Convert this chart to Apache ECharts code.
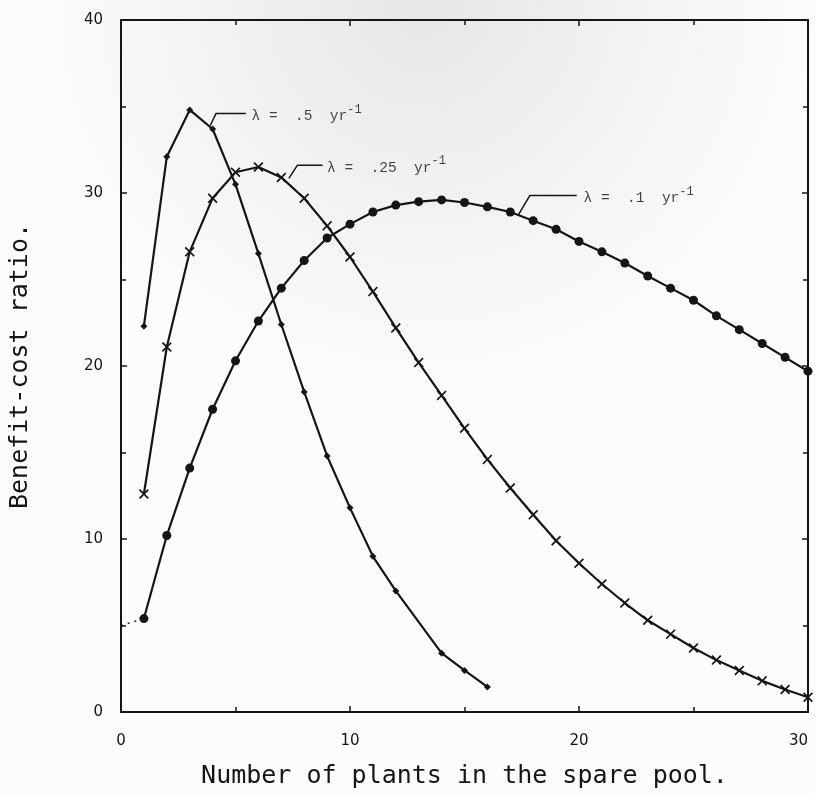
<!DOCTYPE html>
<html>
<head>
<meta charset="utf-8">
<script src="https://cdn.jsdelivr.net/npm/echarts@6/dist/echarts.min.js"></script>
<style>
  html, body { margin: 0; padding: 0; background: #fff; }
  #main { width: 815px; height: 794px; }
</style>
</head>
<body>
<div id="main"></div>
<script>
// benefit-cost ratio vs number of spare plants, for three failure rates
const rate05 = [[1,22.3],[2,32.1],[3,34.8],[4,33.7],[5,30.5],[6,26.5],[7,22.4],[8,18.5],[9,14.8],[10,11.8],[11,9.0],[12,7.0],[14,3.4],[15,2.4],[16,1.45]]
const rate025 = [[1,12.6],[2,21.1],[3,26.6],[4,29.7],[5,31.2],[6,31.5],[7,30.9],[8,29.7],[9,28.1],[10,26.3],[11,24.3],[12,22.2],[13,20.2],[14,18.3],[15,16.4],[16,14.6],[17,12.95],[18,11.4],[19,9.9],[20,8.6],[21,7.4],[22,6.3],[23,5.3],[24,4.5],[25,3.7],[26,3.0],[27,2.4],[28,1.8],[29,1.3],[30,0.85]]
const rate01 = [[1,5.4],[2,10.2],[3,14.1],[4,17.5],[5,20.3],[6,22.6],[7,24.5],[8,26.1],[9,27.4],[10,28.2],[11,28.9],[12,29.3],[13,29.5],[14,29.6],[15,29.45],[16,29.2],[17,28.9],[18,28.4],[19,27.9],[20,27.2],[21,26.6],[22,25.95],[23,25.2],[24,24.5],[25,23.8],[26,22.9],[27,22.1],[28,21.3],[29,20.5],[30,19.7]]
const rate01Extension = [[0,5.0],[1,5.4]]

// leader lines and labels (data coordinates)
const leaders = [
  [[3.9,33.9],[4.15,34.6],[5.45,34.6]],
  [[7.33,30.85],[7.7,31.6],[8.8,31.6]],
  [[17.34,28.7],[17.85,29.85],[19.9,29.85]]
]
const labelText = ['λ =  .5  yr', 'λ =  .25  yr', 'λ =  .1  yr']
const labelAt = [[5.7,34.6],[9.0,31.6],[20.2,29.85]]

const xTitle = 'Number of plants in the spare pool.'
const yTitle = 'Benefit-cost ratio.'

const ink = '#151515'
const xMark = 'path://M0,1.2L1.2,0L5,3.8L8.8,0L10,1.2L6.2,5L10,8.8L8.8,10L5,6.2L1.2,10L0,8.8L3.8,5Z'

var chart = echarts.init(document.getElementById('main'))

const frameAxis = {
  min: 0,
  axisLine: {show: true, onZero: false, lineStyle: {color: ink, width: 2}},
  axisTick: {show: true, inside: true, length: 6, lineStyle: {color: ink, width: 1.5}},
  minorTick: {show: true, splitNumber: 2, length: 5, lineStyle: {color: ink, width: 1.5}},
  splitLine: {show: false}
}

let series = [
  {type: 'line', data: rate05, symbol: 'diamond', symbolSize: 7, showAllSymbol: true,
   lineStyle: {color: ink, width: 2.2}, itemStyle: {color: ink}, z: 3},
  {type: 'line', data: rate025, symbol: xMark, symbolSize: 10, showAllSymbol: true,
   lineStyle: {color: ink, width: 2.2}, itemStyle: {color: ink}, z: 3},
  {type: 'line', data: rate01, symbol: 'circle', symbolSize: 9, showAllSymbol: true,
   lineStyle: {color: ink, width: 2.2}, itemStyle: {color: ink}, z: 3},
  {type: 'line', data: rate01Extension, symbol: 'none',
   lineStyle: {color: ink, width: 1.5, type: [2, 5]}, z: 2}
]
leaders.forEach(l => {
  series.push({type: 'line', data: l, symbol: 'none', lineStyle: {color: ink, width: 1.5}, z: 2})
})
labelText.forEach((t, i) => {
  series.push({
    type: 'scatter', data: [labelAt[i]], symbolSize: 0, z: 4,
    label: {
      show: true, position: 'right', distance: 0,
      formatter: '{t|' + t + '}{s|-1}',
      rich: {
        t: {fontFamily: 'Liberation Mono', fontSize: 14.5, color: ink, lineHeight: 20, verticalAlign: 'bottom'},
        s: {fontFamily: 'Liberation Mono', fontSize: 12, color: ink, lineHeight: 12, verticalAlign: 'top'}
      }
    }
  })
})

var option = {
  animation: false,
  backgroundColor: {
    type: 'radial', x: 0.52, y: 0.0, r: 0.5,
    colorStops: [{offset: 0, color: '#e6e6e6'}, {offset: 0.6, color: '#f4f4f4'}, {offset: 1, color: '#fcfcfc'}]
  },
  grid: {left: 112, right: 7, top: 20, bottom: 82},
  xAxis: [
    Object.assign({}, frameAxis, {
      type: 'value', max: 30, interval: 10, position: 'bottom',
      name: xTitle, nameLocation: 'middle', nameGap: 52,
      nameTextStyle: {fontFamily: 'DejaVu Sans Mono', fontSize: 25, color: ink},
      axisLabel: {margin: 22, fontFamily: 'DejaVu Sans', fontSize: 15, color: ink, alignMaxLabel: 'right'}
    }),
    Object.assign({}, frameAxis, {
      type: 'value', max: 30, interval: 10, position: 'top', axisLabel: {show: false}
    })
  ],
  yAxis: [
    Object.assign({}, frameAxis, {
      type: 'value', max: 40, interval: 10, position: 'left',
      name: yTitle, nameLocation: 'middle', nameGap: 88,
      nameTextStyle: {fontFamily: 'DejaVu Sans Mono', fontSize: 25, color: ink},
      axisLabel: {margin: 18, fontFamily: 'DejaVu Sans', fontSize: 15, color: ink}
    }),
    Object.assign({}, frameAxis, {
      type: 'value', max: 40, interval: 10, position: 'right', axisLabel: {show: false}
    })
  ],
  series: series
}

option && chart.setOption(option)
</script>
</body>
</html>
